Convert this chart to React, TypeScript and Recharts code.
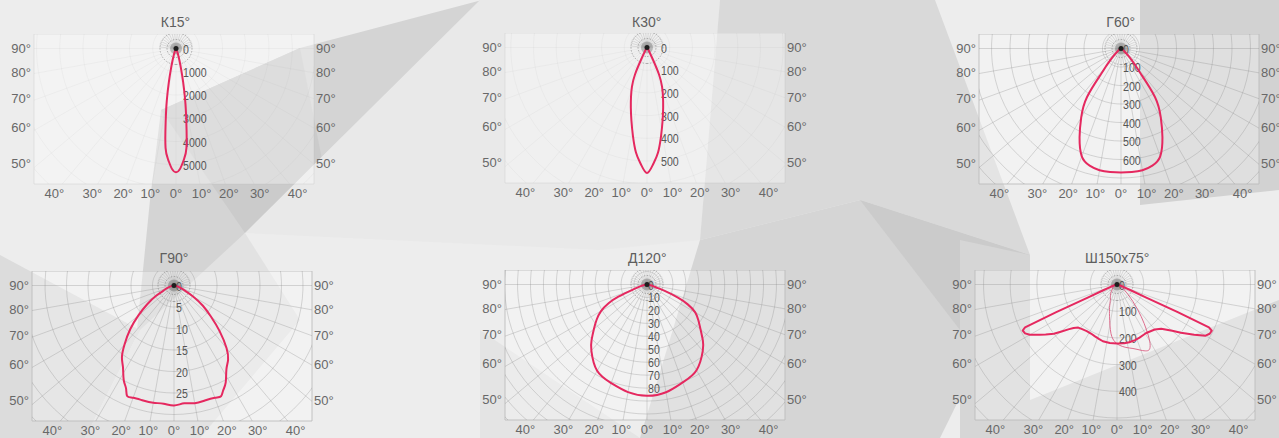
import React from 'react';
import {
  ScatterChart,
  Scatter,
  XAxis,
  YAxis,
  ReferenceLine,
  ReferenceArea,
  ReferenceDot,
} from 'recharts';

const rad = Math.PI / 180;
const FONT = '"Liberation Sans", Arial, sans-serif';
const RED = '#e5285f';

// angle labels on the frame (degrees from nadir)
const sideAngles = [90, 80, 70, 60, 50];
const bottomAngles = [-40, -30, -20, -10, 0, 10, 20, 30, 40];

// К15° — candela, angle from nadir (negative = left)
const k15Angles = [-90, -40, -30, -25, -20, -18, -16, -14, -12, -10, -8, -6, -4, -2, 0, 2, 4, 6, 8, 10, 12, 14, 16, 18, 20, 25, 30, 40, 90];
const k15Values = [0, 5, 20, 60, 200, 330, 540, 900, 1480, 2280, 3200, 4300, 4800, 5170, 5320, 5170, 4800, 4300, 3200, 2280, 1480, 900, 540, 330, 200, 60, 20, 5, 0];
const k15Ticks = [0, 1000, 2000, 3000, 4000, 5000];

// К30°
const k30Angles = [-90, -40, -32, -28, -26, -24, -21, -18, -15, -12, -9, -6, -3, 0, 3, 6, 9, 12, 15, 18, 21, 24, 26, 28, 32, 40, 90];
const k30Values = [0, 2, 8, 25, 60, 130, 185, 228, 275, 330, 395, 465, 515, 553, 515, 465, 395, 330, 275, 228, 185, 130, 60, 25, 8, 2, 0];
const k30Ticks = [0, 100, 200, 300, 400, 500];

// Г60°
const g60Angles = [-90, -80, -70, -60, -50, -45, -42, -40, -38, -35, -30, -25, -20, -15, -10, -5, 0, 5, 10, 15, 20, 25, 30, 35, 38, 40, 42, 45, 50, 60, 70, 80, 90];
const g60Values = [0, 1, 3, 8, 25, 60, 95, 130, 175, 320, 430, 530, 620, 655, 668, 670, 670, 670, 668, 655, 620, 530, 430, 320, 175, 130, 95, 60, 25, 8, 3, 1, 0];
const g60Ticks = [0, 100, 200, 300, 400, 500, 600];

// Г90°
const g90Angles = [-90, -80, -70, -65, -60, -55, -50, -45, -40, -36, -32, -28, -25, -23, -20, -15, -10, -5, 0, 5, 10, 15, 20, 23, 25, 28, 32, 36, 40, 45, 50, 55, 60, 65, 70, 80, 90];
const g90Values = [0, 0.5, 1.6, 2.5, 4.8, 7.6, 10.8, 14.4, 17.9, 20.6, 22.4, 24.9, 26.4, 27.9, 27.8, 27.7, 27.7, 27.6, 27.9, 27.5, 27.8, 27.7, 27.8, 28.0, 27.0, 25.6, 23.0, 21.4, 19.0, 15.0, 11.2, 8.2, 5.2, 2.8, 1.6, 0.5, 0];
const g90Ticks = [0, 5, 10, 15, 20, 25];

// Д120°
const d120Angles = [-90, -80, -75, -72, -70, -67, -64, -60, -55, -50, -45, -40, -30, -20, -10, 0, 10, 20, 30, 40, 45, 50, 55, 60, 64, 67, 70, 72, 75, 80, 90];
const d120Values = [0, 2, 5, 8, 12, 24, 33, 41, 47.5, 53.5, 60.5, 66.8, 77, 81, 84.4, 86, 84.5, 80.5, 76.5, 67, 61, 54, 48.5, 43, 35, 26, 15, 8, 5, 2, 0];
const d120Ticks = [0, 10, 20, 30, 40, 50, 60, 70, 80];

// Ш150x75° — wide plane
const w150Angles = [-90, -80, -70, -67, -66, -65.5, -65, -64, -62, -60, -57, -55, -52, -50, -47, -45, -42, -38, -33, -28, -23, -18, -14, -7, 0, 7, 12, 18, 23, 28, 31, 35, 40, 45, 50, 53, 57, 60, 62, 64, 65, 65.5, 66, 67, 70, 80, 90];
const w150Values = [0, 5, 25, 60, 120, 250, 380, 393, 390, 377, 345, 326, 300, 275, 245, 230, 217, 212, 208, 208, 211, 215, 219, 221, 221, 222, 221, 219, 216, 213, 212, 215, 220, 234, 270, 300, 345, 383, 393, 395, 380, 250, 120, 60, 25, 5, 0];
// Ш150x75° — narrow plane
const w75Angles = [-90, -60, -45, -35, -28, -23, -18, -13, -7, -2, 2, 8, 14, 20, 24, 27, 30, 33, 37, 43, 53, 60, 70, 90];
const w75Values = [0, 15, 25, 42, 52, 64, 90, 124, 185, 215, 227, 238, 247, 262, 272, 270, 245, 203, 151, 88, 36, 18, 6, 0];
const w150Ticks = [0, 100, 200, 300, 400];

type Curve = { angles: number[]; values: number[]; thin?: boolean; sharp?: boolean };
type PanelDef = {
  title: string;
  cx: number;
  cy: number;
  k: number; // px per unit
  step: number;
  ticks: number[];
  labelDx: number;
  faint?: boolean;
  curves: Curve[];
};

const panels: PanelDef[] = [
  { title: 'К15°', cx: 175.5, cy: 48.2, k: 0.02325, step: 1000, ticks: k15Ticks, labelDx: 7, faint: true, curves: [{ angles: k15Angles, values: k15Values }] },
  { title: 'К30°', cx: 646.7, cy: 47.8, k: 0.227, step: 100, ticks: k30Ticks, labelDx: 14, faint: true, curves: [{ angles: k30Angles, values: k30Values }] },
  { title: 'Г60°', cx: 1120.7, cy: 48.3, k: 0.185, step: 100, ticks: g60Ticks, labelDx: 2, curves: [{ angles: g60Angles, values: g60Values }] },
  { title: 'Г90°', cx: 174, cy: 285.5, k: 4.3, step: 5, ticks: g90Ticks, labelDx: 2, curves: [{ angles: g90Angles, values: g90Values }] },
  { title: 'Д120°', cx: 647.3, cy: 284.5, k: 1.295, step: 10, ticks: d120Ticks, labelDx: 1, curves: [{ angles: d120Angles, values: d120Values }] },
  {
    title: 'Ш150x75°', cx: 1117.3, cy: 284.5, k: 0.267, step: 100, ticks: w150Ticks, labelDx: 2,
    curves: [{ angles: w75Angles, values: w75Values, thin: true }, { angles: w150Angles, values: w150Values, sharp: true }],
  },
];

const FW = 280;
const FH = 150;
const TOP = 14.5;
const LEFT = 142;
const LW = 34;
const RW = 34;
const XH = 24;
const SIDE = 137;
const BOTTOM = 145;

const polar = (angles: number[], values: number[]) =>
  angles.map((a, i) => ({ x: values[i] * Math.sin(a * rad), y: -values[i] * Math.cos(a * rad) }));

const circle = (r: number) => {
  const pts = [];
  for (let a = 0; a <= 360; a += 4) pts.push({ x: r * Math.sin(a * rad), y: -r * Math.cos(a * rad) });
  return pts;
};

const none = () => <g />;
const tickStyle = { fill: '#686868', fontSize: 13, fontFamily: FONT };

function Diagram({ p }: { p: PanelDef }) {
  const k = p.k;
  const xd = [-LEFT / k, (FW - LEFT) / k];
  const yd = [-(FH - TOP) / k, TOP / k];
  const sideTicks = sideAngles.map((a) => -(SIDE / Math.tan(a * rad)) / k);
  const bottomTicks = bottomAngles.map((a) => (BOTTOM * Math.tan(a * rad)) / k);
  const gridOp = p.faint ? 0.12 : 0.55;
  const gridColor = '#8c8c8c';

  const rays = [];
  for (let a = -90; a <= 90; a += 10) rays.push(a);
  const spokes = [];
  for (let a = 95; a < 270; a += 10) spokes.push(a);
  const arcs = [];
  for (let n = 1; n * p.step * k < 205; n++) arcs.push(n * p.step);
  const labels = p.ticks.map((t) => ({ x: 0, y: -t, txt: String(t) }));

  return (
    <div
      style={{
        position: 'absolute',
        left: p.cx - LEFT - LW,
        top: p.cy - TOP,
      }}
    >
      <ScatterChart width={LW + FW + RW} height={FH + XH} margin={{ top: 0, right: 0, bottom: 0, left: 0 }}>
        <XAxis
          type="number"
          dataKey="x"
          domain={xd}
          allowDataOverflow
          ticks={bottomTicks}
          interval={0}
          height={XH}
          axisLine={false}
          tickLine={false}
          tickSize={0}
          tickMargin={5}
          tick={tickStyle}
          tickFormatter={(v: number) => `${Math.round(Math.atan((Math.abs(v) * k) / BOTTOM) / rad)}°`}
        />
        <YAxis
          yAxisId="l"
          type="number"
          dataKey="y"
          domain={yd}
          allowDataOverflow
          ticks={sideTicks}
          interval={0}
          width={LW}
          axisLine={false}
          tickLine={false}
          tickSize={0}
          tickMargin={3}
          tick={tickStyle}
          tickFormatter={(v: number) => `${Math.round(Math.atan2(SIDE, -v * k) / rad)}°`}
        />
        <YAxis
          yAxisId="r"
          orientation="right"
          type="number"
          dataKey="y"
          domain={yd}
          allowDataOverflow
          ticks={sideTicks}
          interval={0}
          width={RW}
          axisLine={false}
          tickLine={false}
          tickSize={0}
          tickMargin={2}
          tick={tickStyle}
          tickFormatter={(v: number) => `${Math.round(Math.atan2(SIDE, -v * k) / rad)}°`}
        />
        <ReferenceArea
          yAxisId="l"
          x1={xd[0]}
          x2={xd[1]}
          y1={yd[0]}
          y2={yd[1]}
          fill="#ffffff"
          fillOpacity={p.faint ? 0.35 : 0.3}
          stroke="#bdbdbd"
          strokeOpacity={p.faint ? 0.3 : 0.9}
          ifOverflow="visible"
        />
        {rays.map((a) => (
          <ReferenceLine
            key={'ray' + a}
            yAxisId="l"
            segment={[
              { x: 0, y: 0 },
              { x: (400 * Math.sin(a * rad)) / k, y: (-400 * Math.cos(a * rad)) / k },
            ]}
            ifOverflow="hidden"
            stroke={gridColor}
            strokeOpacity={gridOp}
            strokeWidth={0.6}
          />
        ))}
        {spokes.map((a) => (
          <ReferenceLine
            key={'sp' + a}
            yAxisId="l"
            segment={[
              { x: 0, y: 0 },
              { x: (17 * Math.sin(a * rad)) / k, y: (-17 * Math.cos(a * rad)) / k },
            ]}
            ifOverflow="hidden"
            stroke={gridColor}
            strokeOpacity={0.5}
            strokeWidth={0.5}
          />
        ))}
        {arcs.map((r) => (
          <Scatter
            key={'arc' + r}
            yAxisId="l"
            data={circle(r)}
            shape={none}
            line={{ stroke: gridColor, strokeOpacity: gridOp, strokeWidth: 0.6 }}
            lineJointType="linear"
            isAnimationActive={false}
          />
        ))}
        <Scatter
          yAxisId="l"
          data={circle(9 / k)}
          shape={none}
          line={{ stroke: '#777', strokeOpacity: 0.7, strokeWidth: 0.8, strokeDasharray: '1.5 1.5' }}
          isAnimationActive={false}
        />
        <Scatter
          yAxisId="l"
          data={circle(16 / k)}
          shape={none}
          line={{ stroke: '#777', strokeOpacity: 0.7, strokeWidth: 0.8, strokeDasharray: '1.5 1.5' }}
          isAnimationActive={false}
        />
        <ReferenceDot yAxisId="l" x={0} y={0} r={6} fill="#444" fillOpacity={0.3} stroke="none" />
        <Scatter
          yAxisId="l"
          data={labels}
          isAnimationActive={false}
          shape={(props: any) => {
            const t = props.payload?.txt ?? '';
            return (
              <text
                x={props.cx + p.labelDx}
                y={props.cy + 5}
                fontSize={12}
                fontFamily={FONT}
                fill="#555"
                textLength={t.length * 5.9}
                lengthAdjust="spacingAndGlyphs"
              >
                {t}
              </text>
            );
          }}
        />
        {p.curves.map((c, i) => (
          <Scatter
            key={'c' + i}
            yAxisId="l"
            data={polar(c.angles, c.values)}
            shape={none}
            line={{
              stroke: c.thin ? '#d9577c' : RED,
              strokeWidth: c.thin ? 1 : 2,
              strokeOpacity: c.thin ? 0.85 : 1,
              strokeLinejoin: 'round',
            }}
            lineJointType={c.sharp ? 'linear' : 'natural'}
            isAnimationActive={false}
          />
        ))}
        <ReferenceDot yAxisId="l" x={0} y={0} r={2.5} fill="#1e1e1e" stroke="none" />
      </ScatterChart>
    </div>
  );
}

// decorative low-poly backdrop
const backdrop = [
  { pts: '135,350 150,200 161,110 300,48 482,0 245,233 165,330', fill: '#d4d4d4' },
  { pts: '161,110 300,48 330,200 245,233', fill: '#cbcbcb' },
  { pts: '0,255 140,330 85,438 0,438', fill: '#dcdcdc' },
  { pts: '140,330 245,233 300,320 200,438 85,438', fill: '#e2e2e2' },
  { pts: '480,0 720,0 700,240 600,250 245,233', fill: '#e9e9e9' },
  { pts: '720,0 935,0 1030,255 860,200 700,240', fill: '#d9d9d9' },
  { pts: '700,240 860,200 1030,255 940,438 820,438 640,438', fill: '#d5d5d5' },
  { pts: '860,200 1030,255 960,330', fill: '#cbcbcb' },
  { pts: '1140,0 1279,0 1279,190 1140,205', fill: '#d2d2d2' },
  { pts: '960,240 1030,255 1030,438 960,438', fill: '#d6d6d6' },
  { pts: '1030,400 1279,300 1279,438 1030,438', fill: '#d7d7d7' },
  { pts: '480,330 640,438 480,438', fill: '#e4e4e4' },
];

export default function App() {
  return (
    <div
      style={{
        position: 'absolute',
        left: 0,
        top: 0,
        width: 1279,
        height: 438,
        overflow: 'hidden',
        background: '#ededed',
        fontFamily: FONT,
      }}
    >
      <svg width={1279} height={438} style={{ position: 'absolute', left: 0, top: 0 }}>
        {backdrop.map((b, i) => (
          <polygon key={i} points={b.pts} fill={b.fill} />
        ))}
      </svg>
      {panels.map((p) => (
        <div
          key={p.title + 't'}
          style={{
            position: 'absolute',
            left: p.cx - 70,
            width: 140,
            top: p.cy < 100 ? 13.5 : 250,
            textAlign: 'center',
            fontSize: 14,
            lineHeight: '16px',
            color: '#5e5e5e',
          }}
        >
          {p.title}
        </div>
      ))}
      {panels.map((p) => (
        <Diagram key={p.title} p={p} />
      ))}
    </div>
  );
}
